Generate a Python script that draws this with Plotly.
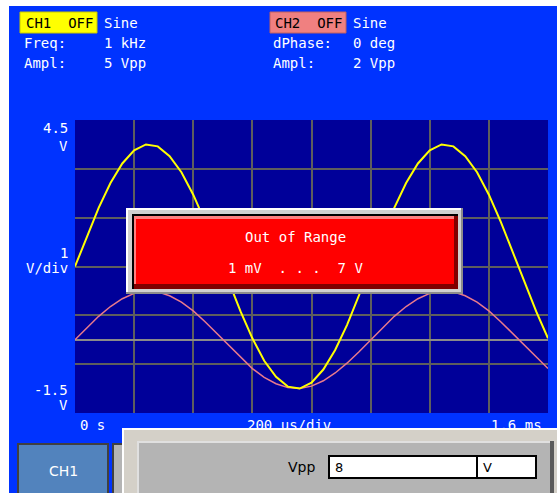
import plotly.graph_objects as go

# time base in ms, 200 us/div, 8 divisions
t_ms = [0.00, 0.04, 0.08, 0.12, 0.16, 0.20, 0.24, 0.28, 0.32, 0.36,
        0.40, 0.44, 0.48, 0.52, 0.56, 0.60, 0.64, 0.68, 0.72, 0.76,
        0.80, 0.84, 0.88, 0.92, 0.96, 1.00, 1.04, 1.08, 1.12, 1.16,
        1.20, 1.24, 1.28, 1.32, 1.36, 1.40, 1.44, 1.48, 1.52, 1.56, 1.60]

# CH1: 1 kHz sine, 5 Vpp
ch1_v = [1.50, 2.12, 2.70, 3.21, 3.61, 3.88, 4.00, 3.96, 3.76, 3.43,
         2.97, 2.42, 1.81, 1.19, 0.58, 0.03, -0.43, -0.76, -0.96, -1.00,
         -0.88, -0.61, -0.21, 0.30, 0.88, 1.50, 2.12, 2.70, 3.21, 3.61,
         3.88, 4.00, 3.96, 3.76, 3.43, 2.97, 2.42, 1.81, 1.19, 0.58, 0.03]

# CH2: sine, 2 Vpp, 0 deg phase (pink trace)
ch2_v = [0.00, 0.25, 0.48, 0.68, 0.84, 0.95, 1.00, 0.98, 0.90, 0.77,
         0.59, 0.37, 0.13, -0.13, -0.37, -0.59, -0.77, -0.90, -0.98, -1.00,
         -0.95, -0.84, -0.68, -0.48, -0.25, 0.00, 0.25, 0.48, 0.68, 0.84,
         0.95, 1.00, 0.98, 0.90, 0.77, 0.59, 0.37, 0.13, -0.13, -0.37, -0.59]

x_divs = [0.2, 0.4, 0.6, 0.8, 1.0, 1.2, 1.4]
y_divs = [-0.5, 0.5, 1.5, 2.5, 3.5]

# screen geometry (pixels) of the plot area
W, H = 557, 493
L, R, T, B = 75, 548, 120, 413
FONT = "DejaVu Sans Mono"


def px(x):
    return (x - L) / (R - L)


def py(y):
    return (B - y) / (B - T)


def rect(x0, y0, x1, y1, fill, layer="above", line=None):
    return dict(type="rect", xref="paper", yref="paper",
                x0=px(x0), x1=px(x1), y0=py(y0), y1=py(y1),
                fillcolor=fill, layer=layer,
                line=dict(width=0) if line is None else line)


def text(x, y, s, color="white", size=14, anchor="left", family=FONT):
    return dict(x=px(x), y=py(y), xref="paper", yref="paper", text=s,
                showarrow=False, xanchor=anchor, yanchor="middle",
                font=dict(family=family, size=size, color=color))


def block(x0, y0, x1, y1, color):
    # opaque box drawn as an annotation so that it covers text below it
    return dict(x=px(x0), y=py(y0), xref="paper", yref="paper", text=" ",
                showarrow=False, xanchor="left", yanchor="top",
                width=x1 - x0, height=y1 - y0, bgcolor=color,
                borderpad=0, borderwidth=0, font=dict(size=1))


fig = go.Figure()
fig.add_trace(go.Scatter(x=t_ms, y=ch2_v, mode="lines",
                         line=dict(color="#e87a8c", width=1.5)))
fig.add_trace(go.Scatter(x=t_ms, y=ch1_v, mode="lines",
                         line=dict(color="#ffff00", width=2)))

shapes = [
    # white frame around the screen
    rect(0, 0, W, 6, "white", layer="below"),
    rect(0, 0, 9, H, "white", layer="below"),
    # channel tags
    rect(20, 12, 97, 33, "#ffff00", line=dict(color="#c8c800", width=1)),
    rect(270, 12, 346, 33, "#f08080", line=dict(color="#c06060", width=1)),
    # "Out of Range" message box
    rect(126, 208, 463, 294, "#8c8c8c"),
    rect(126, 208, 461, 292, "#ffffff"),
    rect(128, 210, 461, 292, "#d0d0d0"),
    rect(132, 214, 458, 289, "#000000"),
    rect(134, 216, 458, 289, "#800000"),
    rect(134, 216, 454, 284, "#ff8080"),
    rect(136, 219, 454, 284, "#ff0000"),
]

annotations = [
    text(24, 23, "CH1  OFF", color="black"),
    text(102, 23, "Sine"),
    text(22, 43, "Freq:"),
    text(102, 43, "1 kHz"),
    text(22, 63, "Ampl:"),
    text(102, 63, "5 Vpp"),
    text(273, 23, "CH2  OFF", color="black"),
    text(351, 23, "Sine"),
    text(271, 43, "dPhase:"),
    text(351, 43, "0 deg"),
    text(271, 63, "Ampl:"),
    text(351, 63, "2 Vpp"),
    text(70, 128, "4.5", anchor="right"),
    text(70, 146, "V", anchor="right"),
    text(70, 253, "1", anchor="right"),
    text(70, 268, "V/div", anchor="right"),
    text(70, 390, "-1.5", anchor="right"),
    text(70, 405, "V", anchor="right"),
    text(78, 425, "0 s"),
    text(245, 425, "200 us/div"),
    text(544, 425, "1.6 ms", anchor="right"),
    text(295, 237, "Out of Range"),
    text(295, 268, "1 mV  . . .  7 V"),
]
for a in annotations[-2:]:
    a["xanchor"] = "center"

# soft-key buttons and the entry dialog at the bottom
annotations += [
    block(17, 443, 109, 493, "#404040"),
    block(19, 445, 107, 493, "#5283bd"),
    text(63, 471, "CH1", size=14, anchor="center", family="DejaVu Sans"),
    block(112, 443, 130, 493, "#404040"),
    block(114, 445, 130, 493, "#b4b4b4"),
    block(122, 428, W, H, "#ffffff"),
    block(124, 430, W, H, "#d4d0c8"),
    block(137, 441, 554, H, "#5a5a5a"),
    block(137, 441, 550, H, "#e0e0e0"),
    block(139, 443, 550, H, "#b4b4b4"),
    text(286, 467, "Vpp", color="black", size=14, family="DejaVu Sans"),
    block(328, 455, 537, 479, "#000000"),
    block(330, 457, 476, 477, "#ffffff"),
    block(478, 457, 535, 477, "#ffffff"),
    text(333, 467, "8", color="black", size=13, family="DejaVu Sans"),
    text(481, 467, "V", color="black", size=13, family="DejaVu Sans"),
]

fig.update_layout(
    width=W, height=H,
    margin=dict(l=L, r=W - R, t=T, b=H - B),
    paper_bgcolor="#0033ff",
    plot_bgcolor="#000099",
    showlegend=False,
    shapes=shapes,
    annotations=annotations,
    xaxis=dict(range=[0, 1.6], tickmode="array", tickvals=x_divs,
               showticklabels=False, ticks="", showgrid=True,
               gridcolor="#5e5e5e", gridwidth=2, zeroline=False,
               showline=False, fixedrange=True),
    yaxis=dict(range=[-1.5, 4.5], tickmode="array", tickvals=y_divs,
               showticklabels=False, ticks="", showgrid=True,
               gridcolor="#5e5e5e", gridwidth=2, zeroline=True,
               zerolinecolor="#8a8a8a", zerolinewidth=2,
               showline=False, fixedrange=True),
)

# the page body has a default 8px margin; drop it so the figure fills the window
fig.write_html("out.html", config={"displayModeBar": False},
               post_script="document.body.style.margin = '0';")
